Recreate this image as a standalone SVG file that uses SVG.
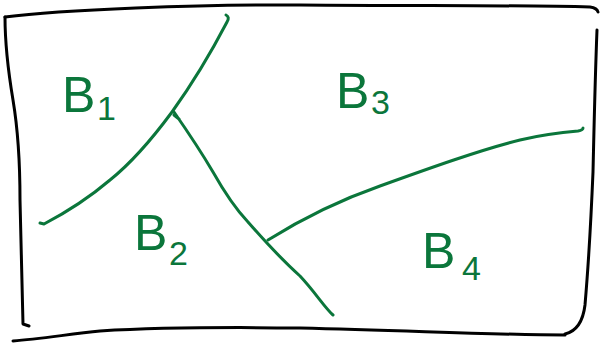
<svg xmlns="http://www.w3.org/2000/svg" width="600" height="343" viewBox="0 0 600 343">
<style>
.frame{fill:none;stroke:#000;stroke-width:3;stroke-linecap:round;stroke-linejoin:round}
.ink{fill:none;stroke:#0b763b;stroke-width:3;stroke-linecap:round;stroke-linejoin:round}
.lbl{fill:#0b763b;font-family:"Liberation Sans",Arial,sans-serif;font-size:50px}
.sub{font-size:34px}
</style>
<rect width="600" height="343" fill="#fff"/>
<g id="frame">
<path class="frame" d="M5,17 C60,10 200,4 300,5 C420,6 520,5 590,7 Q597,8 598,12"/>
<path class="frame" d="M597,30 C595,80 594,130 593,172 C591,220 588,270 585,305 Q582,330 565,334"/>
<path class="frame" d="M565,335 C500,335 420,331 300,328 C220,327 150,328 100,331 C70,334 40,339 13,341"/>
<path class="frame" d="M5,17 C5,40 8,70 13,100 C18,130 20,160 20,200 C21,250 22,290 23,324 L29,326"/>
</g>
<g id="connectors">
<path class="ink" d="M226,15 Q230,17 227,22 C215,45 195,80 172,112 C155,135 135,160 110,180 C90,197 65,213 44,224 L40,223"/>
<path class="ink" d="M174,115 L179,119 M174,112 C190,135 203,155 213,172 C222,188 232,205 248,222 C262,238 280,258 300,276 C315,292 325,308 333,315"/>
<path class="ink" d="M268,240 C300,220 340,200 380,186 C430,168 480,150 520,140 C545,134 565,132 578,131 Q583,130 583,128"/>
</g>
<g id="B1"><text class="lbl" x="62" y="112">B<tspan class="sub" x="97" y="120">1</tspan></text></g>
<g id="B3"><text class="lbl" x="336" y="108">B<tspan class="sub" x="371" y="114">3</tspan></text></g>
<g id="B2"><text class="lbl" x="134" y="250">B<tspan class="sub" x="169" y="265">2</tspan></text></g>
<g id="B4"><text class="lbl" x="422" y="268">B<tspan class="sub" x="462" y="280">4</tspan></text></g>
</svg>
